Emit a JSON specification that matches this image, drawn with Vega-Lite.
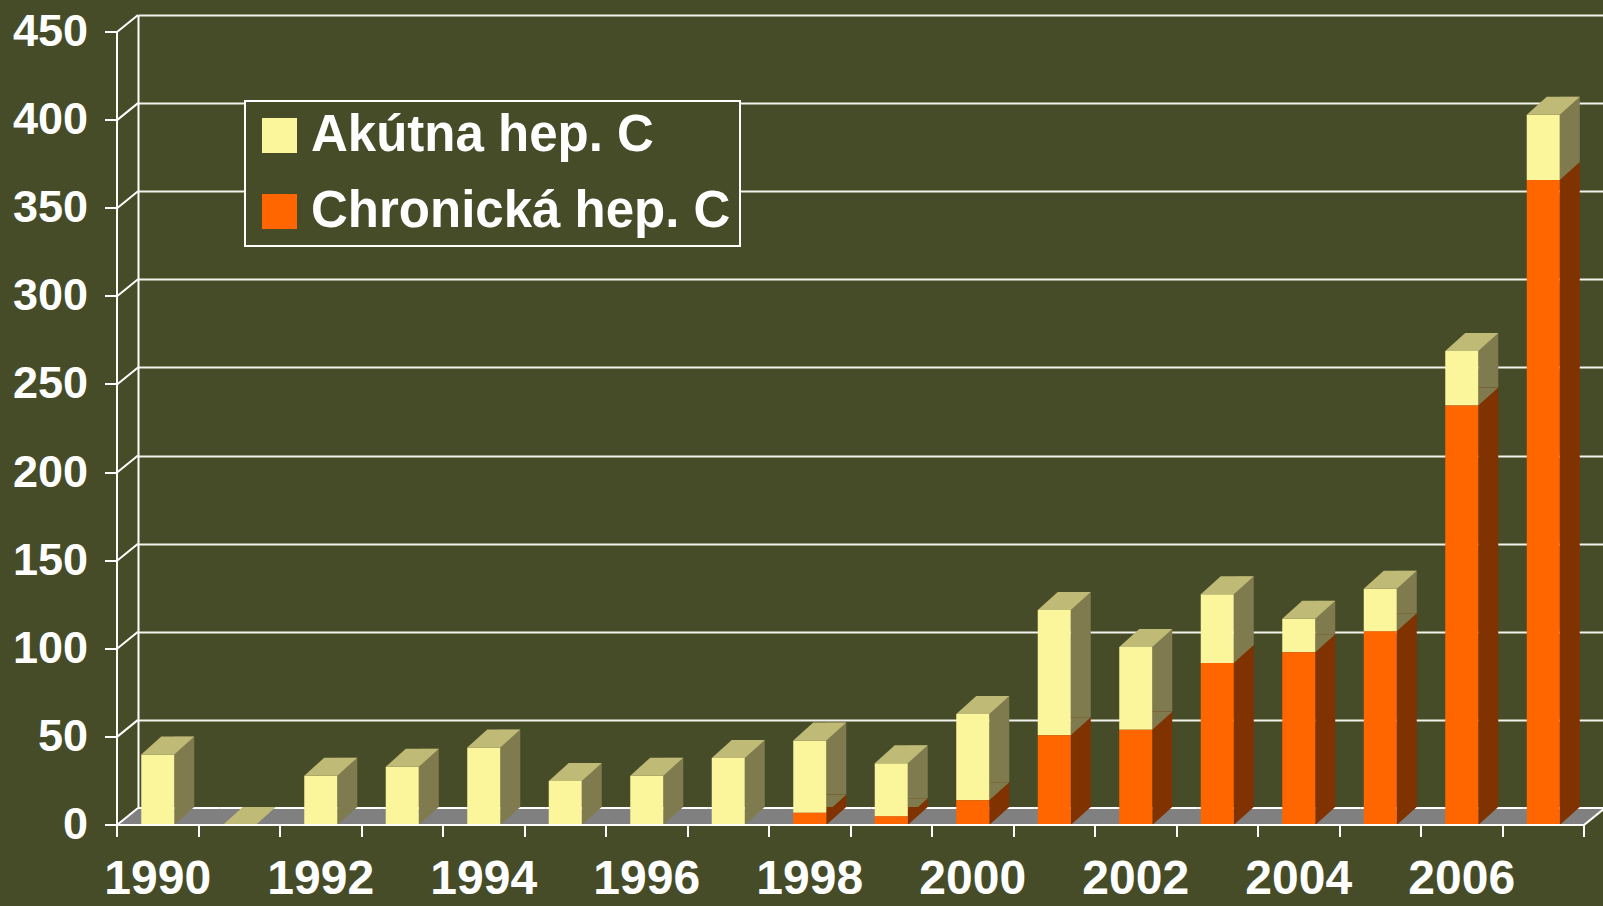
{
  "$schema": "https://vega.github.io/schema/vega-lite/v6.json",
  "width": 1467,
  "height": 793,
  "autosize": {"type": "none"},
  "padding": {"left": 138, "top": 15, "right": 0, "bottom": 98},
  "background": "#464C28",
  "config": {"view": {"stroke": null}, "font": "Liberation Sans"},
  "datasets": {
    "cases": [
      {"year": 1990, "series": "Akútna hep. C", "value": 40}, {"year": 1990, "series": "Chronická hep. C", "value": 0},
      {"year": 1991, "series": "Akútna hep. C", "value": 0}, {"year": 1991, "series": "Chronická hep. C", "value": 0},
      {"year": 1992, "series": "Akútna hep. C", "value": 28}, {"year": 1992, "series": "Chronická hep. C", "value": 0},
      {"year": 1993, "series": "Akútna hep. C", "value": 33}, {"year": 1993, "series": "Chronická hep. C", "value": 0},
      {"year": 1994, "series": "Akútna hep. C", "value": 44}, {"year": 1994, "series": "Chronická hep. C", "value": 0},
      {"year": 1995, "series": "Akútna hep. C", "value": 25}, {"year": 1995, "series": "Chronická hep. C", "value": 0},
      {"year": 1996, "series": "Akútna hep. C", "value": 28}, {"year": 1996, "series": "Chronická hep. C", "value": 0},
      {"year": 1997, "series": "Akútna hep. C", "value": 38}, {"year": 1997, "series": "Chronická hep. C", "value": 0},
      {"year": 1998, "series": "Akútna hep. C", "value": 41}, {"year": 1998, "series": "Chronická hep. C", "value": 7},
      {"year": 1999, "series": "Akútna hep. C", "value": 30}, {"year": 1999, "series": "Chronická hep. C", "value": 5},
      {"year": 2000, "series": "Akútna hep. C", "value": 49}, {"year": 2000, "series": "Chronická hep. C", "value": 14},
      {"year": 2001, "series": "Akútna hep. C", "value": 71}, {"year": 2001, "series": "Chronická hep. C", "value": 51},
      {"year": 2002, "series": "Akútna hep. C", "value": 47}, {"year": 2002, "series": "Chronická hep. C", "value": 54},
      {"year": 2003, "series": "Akútna hep. C", "value": 39}, {"year": 2003, "series": "Chronická hep. C", "value": 92},
      {"year": 2004, "series": "Akútna hep. C", "value": 19}, {"year": 2004, "series": "Chronická hep. C", "value": 98},
      {"year": 2005, "series": "Akútna hep. C", "value": 24}, {"year": 2005, "series": "Chronická hep. C", "value": 110},
      {"year": 2006, "series": "Akútna hep. C", "value": 31}, {"year": 2006, "series": "Chronická hep. C", "value": 238},
      {"year": 2007, "series": "Akútna hep. C", "value": 37}, {"year": 2007, "series": "Chronická hep. C", "value": 366}
    ],
    "levels": [
      {"level": 0}, {"level": 50}, {"level": 100}, {"level": 150}, {"level": 200},
      {"level": 250}, {"level": 300}, {"level": 350}, {"level": 400}, {"level": 450}
    ]
  },
  "data": {"name": "cases"},
  "transform": [
    {"stack": "value", "groupby": ["year"], "sort": [{"field": "series", "order": "descending"}], "as": ["v0", "v1"]}
  ],
  "encoding": {
    "x": {
      "field": "year",
      "type": "ordinal",
      "scale": {"paddingInner": 0, "paddingOuter": 0},
      "axis": {
        "orient": "bottom",
        "offset": 38,
        "translate": -21,
        "zindex": 1,
        "title": null,
        "grid": false,
        "tickBand": "extent",
        "tickSize": 12,
        "tickColor": "white",
        "tickWidth": 2,
        "domainColor": "white",
        "domainWidth": 2,
        "labelFont": "Liberation Sans",
        "labelFontSize": 48,
        "labelFontWeight": "bold",
        "labelColor": "white",
        "labelPadding": 19,
        "labelAngle": 0,
        "labelOverlap": false,
        "labelExpr": "datum.value % 2 == 0 ? datum.label : ''"
      }
    }
  },
  "layer": [
    {
      "transform": [{"filter": "datum.series == 'Akútna hep. C'"}],
      "mark": {"type": "point", "shape": "M -61.75 17 L 19.75 17 L 40.75 0 L -40.75 0 Z", "size": 4, "filled": true, "opacity": 1, "color": "#808080", "stroke": "#808080", "strokeWidth": 1},
      "encoding": {"y": {"datum": 0, "type": "quantitative", "axis": null}}
    },
    {
      "transform": [{"filter": "datum.series == 'Akútna hep. C'"}],
      "mark": {"type": "point", "shape": "M -40.75 0 L 40.75 0", "size": 4, "filled": false, "opacity": 1, "color": "white", "strokeWidth": 2},
      "encoding": {"y": {"datum": 0, "type": "quantitative", "axis": null}}
    },
    {
      "transform": [{"filter": "datum.series == 'Akútna hep. C' && datum.year == 2007"}],
      "mark": {"type": "point", "shape": "M 19.75 17 L 40.75 0", "size": 4, "filled": false, "opacity": 1, "color": "white", "strokeWidth": 2},
      "encoding": {"y": {"datum": 0, "type": "quantitative", "axis": null}}
    },
    {
      "data": {"name": "levels"},
      "mark": {"type": "point", "shape": "M -61.75 17 L -40.75 0", "size": 4, "filled": false, "opacity": 1, "color": "white", "strokeWidth": 2},
      "encoding": {
        "x": {"datum": 1990, "type": "ordinal"},
        "y": {"field": "level", "type": "quantitative", "axis": null}
      }
    },
    {
      "mark": {"type": "bar", "width": 20, "xOffset": 5.5, "yOffset": -1, "y2Offset": -1},
      "encoding": {
        "y": {
          "field": "v1",
          "type": "quantitative",
          "scale": {"domain": [0, 450], "nice": false},
          "axis": {
            "orient": "left",
            "values": [0, 50, 100, 150, 200, 250, 300, 350, 400, 450],
            "grid": true,
            "gridColor": "#F2F2EA",
            "gridWidth": 2,
            "gridOpacity": 1,
            "ticks": false,
            "labels": false,
            "domain": true,
            "domainColor": "white",
            "domainWidth": 2,
            "title": null
          }
        },
        "y2": {"field": "v0"},
        "color": {"condition": {"test": "datum.series == 'Chronická hep. C'", "value": "#803300"}, "value": "#7F7B4F"}
      }
    },
    {
      "transform": [{"filter": "datum.value > 0"}],
      "mark": {"type": "point", "shape": "M -4.5 17 L -4.5 -1 L 15.5 -1 Z", "size": 4, "filled": true, "opacity": 1, "strokeWidth": 0},
      "encoding": {
        "y": {"field": "v0", "type": "quantitative", "axis": null},
        "color": {"condition": {"test": "datum.series == 'Chronická hep. C'", "value": "#803300"}, "value": "#7F7B4F"}
      }
    },
    {
      "mark": {"type": "bar", "width": 33, "xOffset": -21, "yOffset": 17, "y2Offset": 17},
      "encoding": {
        "y": {
          "field": "v1",
          "type": "quantitative",
          "scale": {"domain": [0, 450], "nice": false},
          "axis": {
            "orient": "left",
            "offset": 38,
            "translate": 17,
            "zindex": 1,
            "values": [0, 50, 100, 150, 200, 250, 300, 350, 400, 450],
            "grid": false,
            "title": null,
            "tickSize": 12,
            "tickColor": "white",
            "tickWidth": 2,
            "domainColor": "white",
            "domainWidth": 2,
            "labelFont": "Liberation Sans",
            "labelFontSize": 45,
            "labelFontWeight": "bold",
            "labelColor": "white",
            "labelPadding": 17
          }
        },
        "y2": {"field": "v0"},
        "color": {
          "field": "series",
          "type": "nominal",
          "scale": {"domain": ["Akútna hep. C", "Chronická hep. C"], "range": ["#FBF59B", "#FF6600"]},
          "legend": {
            "title": null,
            "orient": "none",
            "legendX": 107,
            "legendY": 86,
            "symbolType": "square",
            "symbolSize": 1225,
            "symbolStrokeWidth": 0,
            "symbolOpacity": 1,
            "labelFont": "Liberation Sans",
            "labelFontSize": 51,
            "labelFontWeight": "bold",
            "labelColor": "white",
            "labelLimit": 0,
            "labelOffset": 6,
            "fillColor": "#464C28",
            "strokeColor": "white",
            "padding": 9,
            "rowPadding": 24,
            "encode": {"legend": {"update": {"strokeWidth": {"value": 2}}}}
          }
        }
      }
    },
    {
      "transform": [{"filter": "datum.series == 'Akútna hep. C'"}],
      "mark": {"type": "point", "shape": "M -37.5 17 L -4.5 17 L 15.5 -1 L -17.5 -1 Z", "size": 4, "filled": true, "opacity": 1, "color": "#BFBA76", "strokeWidth": 0},
      "encoding": {"y": {"field": "v1", "type": "quantitative", "axis": null}}
    }
  ],
  "resolve": {"axis": {"y": "independent"}}
}
